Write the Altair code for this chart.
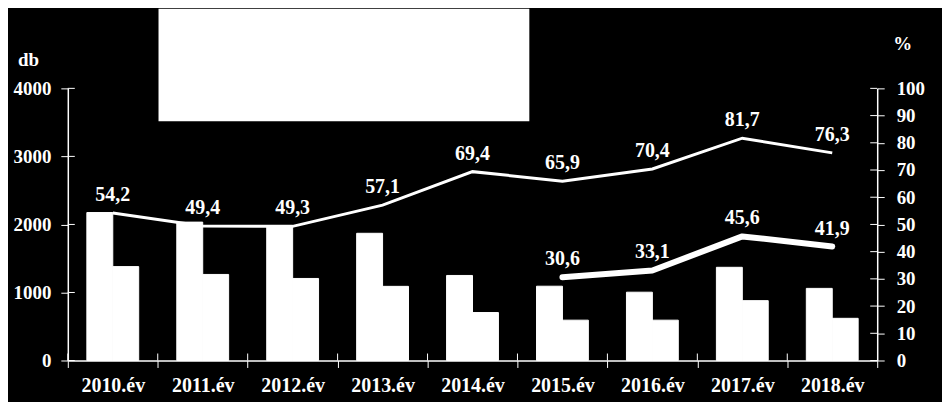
import altair as alt
import pandas as pd

years = ["2010.év", "2011.év", "2012.év", "2013.év", "2014.év",
         "2015.év", "2016.év", "2017.év", "2018.év"]
bar_a = [2175, 2034, 1975, 1870, 1250, 1092, 1004, 1370, 1060]
bar_b = [1380, 1265, 1206, 1090, 705, 593, 593, 880, 620]
pct_thin = [54.2, 49.4, 49.3, 57.1, 69.4, 65.9, 70.4, 81.7, 76.3]
thick_years = ["2015.év", "2016.év", "2017.év", "2018.év"]
pct_thick = [30.6, 33.1, 45.6, 41.9]
left_ticks_vals = [0, 1000, 2000, 3000, 4000]
right_ticks_vals = [0, 10, 20, 30, 40, 50, 60, 70, 80, 90, 100]

FONT = "Liberation Serif"

bar_df = pd.DataFrame(
    [{"year": y, "series": "A", "value": v} for y, v in zip(years, bar_a)]
    + [{"year": y, "series": "B", "value": v} for y, v in zip(years, bar_b)]
)
thin_df = pd.DataFrame({"year": years, "pct": pct_thin,
                        "label": [f"{v:.1f}".replace(".", ",") for v in pct_thin]})
thick_df = pd.DataFrame({"year": thick_years, "pct": pct_thick,
                         "label": [f"{v:.1f}".replace(".", ",") for v in pct_thick]})
lt_df = pd.DataFrame({"value": left_ticks_vals})
rt_df = pd.DataFrame({"pct": right_ticks_vals})
xt_df = pd.DataFrame({"year": years})

x_axis = alt.Axis(title=None, labelAngle=0, tickBand="extent", tickSize=7,
                  tickColor="white", domainColor="white", domainWidth=1.5,
                  labelColor="white", labelFont=FONT, labelFontWeight="bold",
                  labelFontSize=20, labelPadding=8, grid=False)
x_enc = alt.X("year:N", sort=years, axis=x_axis,
              scale=alt.Scale(paddingInner=0, paddingOuter=0))

left_axis = alt.Axis(title="db", titleAngle=0, titleX=-40, titleY=-29,
                     titleAlign="center", titleBaseline="middle",
                     titleColor="white", titleFont=FONT, titleFontWeight="bold",
                     titleFontSize=19,
                     values=left_ticks_vals, format="d",
                     domainColor="white", domainWidth=1.5, tickColor="white",
                     tickSize=7, labelColor="white", labelFont=FONT,
                     labelFontWeight="bold", labelFontSize=19, labelPadding=10,
                     grid=False)

right_axis = alt.Axis(title="%", orient="right", titleAngle=0, titleX=25,
                      titleY=-45, titleAlign="center", titleBaseline="middle",
                      titleColor="white", titleFont=FONT, titleFontWeight="bold",
                      titleFontSize=19,
                      values=right_ticks_vals, domainColor="white",
                      domainWidth=1.5, tickColor="white", tickSize=7,
                      labelColor="white", labelFont=FONT, labelFontWeight="bold",
                      labelFontSize=19, labelPadding=12, grid=False)

y_left = alt.Y("value:Q", axis=left_axis,
               scale=alt.Scale(domain=[0, 4000], nice=False))
y_right = alt.Y("pct:Q", axis=right_axis,
                scale=alt.Scale(domain=[0, 100], nice=False))

bars = alt.Chart(bar_df).mark_bar(color="white", stroke="white",
                                  strokeWidth=1).encode(
    x=x_enc,
    xOffset=alt.XOffset("series:N",
                        scale=alt.Scale(paddingOuter=0.735, paddingInner=0)),
    y=y_left,
)

# inner halves of the crossing tick marks
left_in = alt.Chart(lt_df).mark_rule(color="white", strokeWidth=1).encode(
    y=y_left, x=alt.value(0), x2=alt.value(7))
x_in = alt.Chart(xt_df).mark_rule(color="white", strokeWidth=1).encode(
    x=alt.X("year:N", sort=years, axis=x_axis, bandPosition=0,
            scale=alt.Scale(paddingInner=0, paddingOuter=0)),
    y=alt.value(266), y2=alt.value(273))

left_group = alt.layer(bars, left_in, x_in)

thin_line = alt.Chart(thin_df).mark_line(color="white", strokeWidth=3).encode(
    x=x_enc, y=y_right)
thin_text = alt.Chart(thin_df).mark_text(
    color="white", font=FONT, fontWeight="bold", fontSize=20, dy=-18
).encode(x=x_enc, y=y_right, text="label:N")
thick_line = alt.Chart(thick_df).mark_line(
    color="white", strokeWidth=6, strokeCap="round", strokeJoin="round"
).encode(x=x_enc, y=y_right)
thick_text = alt.Chart(thick_df).mark_text(
    color="white", font=FONT, fontWeight="bold", fontSize=20, dy=-18
).encode(x=x_enc, y=y_right, text="label:N")
right_in = alt.Chart(rt_df).mark_rule(color="white", strokeWidth=1).encode(
    y=y_right, x=alt.value(805), x2=alt.value(812))

lines = alt.layer(thin_line, thick_line, thin_text, thick_text, right_in)

legend_box = alt.Chart(alt.Data(values=[{}])).mark_rect(color="white").encode(
    x=alt.value(91), x2=alt.value(463), y=alt.value(-80), y2=alt.value(33))

chart = alt.layer(left_group, lines, legend_box).resolve_scale(
    y="independent"
).properties(
    width=812, height=273,
    autosize=alt.AutoSizeParams(type="none"),
    padding={"left": 60, "top": 80, "right": 65, "bottom": 41},
    background="black",
).configure_view(stroke=None)

chart.save("out.html", embed_options={"renderer": "svg", "actions": False})
